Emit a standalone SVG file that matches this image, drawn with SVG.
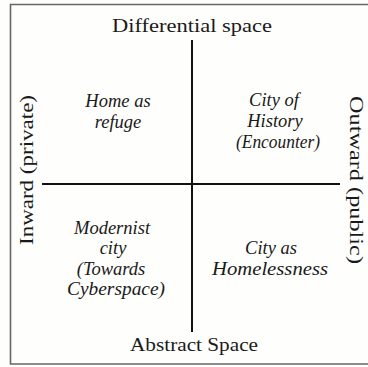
<svg xmlns="http://www.w3.org/2000/svg" width="368" height="367" viewBox="0 0 368 367">
  <style>
    .axis { font-family: "Liberation Serif", "Times New Roman", serif; font-size: 19px; fill: #1a1a1a; text-anchor: middle; }
    .quad { font-family: "Liberation Serif", "Times New Roman", serif; font-style: italic; font-size: 18.5px; fill: #1a1a1a; text-anchor: middle; }
    .frame { fill: none; stroke: #666; stroke-width: 1.6; }
    .rule { stroke: #111; stroke-width: 2; fill: none; }
  </style>
  <rect width="368" height="367" fill="#fefefc"/>

  <!-- outer frame, open at the right edge -->
  <path class="frame" d="M368 4.5 H10.5 V364 H368"/>

  <!-- the two axes -->
  <g id="connectors">
    <line class="rule" x1="192" y1="40" x2="192" y2="332"/>
    <line class="rule" x1="42" y1="184" x2="340" y2="184"/>
  </g>

  <!-- axis labels -->
  <g id="top-label"><text class="axis" x="192" y="32" textLength="160" lengthAdjust="spacingAndGlyphs">Differential space</text></g>
  <g id="bottom-label"><text class="axis" x="194" y="351" textLength="128" lengthAdjust="spacingAndGlyphs">Abstract Space</text></g>
  <g id="left-label"><text class="axis" transform="translate(33,170) rotate(-90)" textLength="150" lengthAdjust="spacingAndGlyphs">Inward (private)</text></g>
  <g id="right-label"><text class="axis" transform="translate(350,180) rotate(90)" textLength="168" lengthAdjust="spacingAndGlyphs">Outward (public)</text></g>

  <!-- quadrants -->
  <g id="home-as-refuge">
    <text class="quad" x="118" y="107">Home as</text>
    <text class="quad" x="118" y="128">refuge</text>
  </g>
  <g id="city-of-history">
    <text class="quad" x="274" y="106">City of</text>
    <text class="quad" x="275" y="127">History</text>
    <text class="quad" x="278" y="148" textLength="84" lengthAdjust="spacingAndGlyphs">(Encounter)</text>
  </g>
  <g id="modernist-city">
    <text class="quad" x="112" y="234">Modernist</text>
    <text class="quad" x="113" y="254">city</text>
    <text class="quad" x="111" y="275">(Towards</text>
    <text class="quad" x="116" y="295" textLength="98" lengthAdjust="spacingAndGlyphs">Cyberspace)</text>
  </g>
  <g id="city-as-homelessness">
    <text class="quad" x="271" y="254">City as</text>
    <text class="quad" x="270" y="275" textLength="116" lengthAdjust="spacingAndGlyphs">Homelessness</text>
  </g>
</svg>
